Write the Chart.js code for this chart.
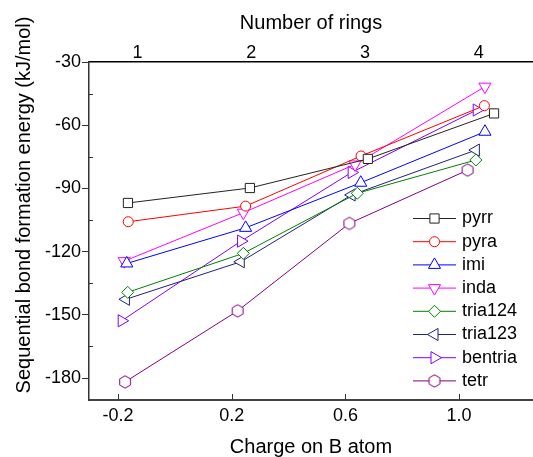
<!DOCTYPE html>
<html>
<head>
<meta charset="utf-8">
<script src="https://cdn.jsdelivr.net/npm/chart.js@4.4.1/dist/chart.umd.min.js"></script>
<style>
  html, body { margin: 0; padding: 0; background: #fff; }
  #wrap { width: 533px; height: 457px; }
</style>
</head>
<body>
<div id="wrap"><canvas id="myChart" width="533" height="457"></canvas></div>
<script>
const seriesNames = ["pyrr", "pyra", "imi", "inda", "tria124", "tria123", "bentria", "tetr"];

// charge on B atom (x) and sequential bond formation energy (y) per series
const pyrrCharge = [-0.165, 0.264, 0.679, 1.123];
const pyrrEnergy = [-96.9, -89.8, -76.0, -54.4];
const pyraCharge = [-0.164, 0.249, 0.655, 1.089];
const pyraEnergy = [-105.8, -98.4, -74.6, -50.7];
const imiCharge = [-0.169, 0.249, 0.654, 1.091];
const imiEnergy = [-125.6, -108.7, -87.3, -63.1];
const indaCharge = [-0.178, 0.241, 0.634, 1.091];
const indaEnergy = [-124.5, -101.5, -78.6, -41.7];
const tria124Charge = [-0.166, 0.241, 0.642, 1.059];
const tria124Energy = [-139.3, -120.8, -92.3, -76.5];
const tria123Charge = [-0.172, 0.232, 0.622, 1.059];
const tria123Energy = [-142.6, -124.8, -93.1, -71.8];
const bentriaCharge = [-0.187, 0.233, 0.622, 1.062];
const bentriaEnergy = [-152.8, -115.0, -82.4, -52.8];
const tetrCharge = [-0.175, 0.221, 0.614, 1.030];
const tetrEnergy = [-181.8, -148.1, -106.6, -81.3];

const chargeTicks = [-0.2, 0.2, 0.6, 1.0];
const ringTicks = [1, 2, 3, 4];
const energyTicks = [-30, -60, -90, -120, -150, -180];
const energyMinorTicks = [-45, -75, -105, -135, -165];

const chargeMin = -0.302;
const chargeMax = 1.26;
const energyMin = -190.4;
const energyMax = -30;
const ringOneCharge = -0.131;
const chargePerRing = 0.4;

const FONT = "'Liberation Sans', Arial, sans-serif";
Chart.defaults.font.family = FONT;
Chart.defaults.color = "#000";

function hexagon(color){
  const c = document.createElement("canvas");
  c.width = 16;
  c.height = 16;
  const g = c.getContext("2d");
  g.beginPath();
  for(let k = 0; k < 6; k++){
    const a = -Math.PI / 2 + k * Math.PI / 3;
    const px = 8 + 6.2 * Math.cos(a);
    const py = 8 + 6.2 * Math.sin(a);
    if(k === 0) g.moveTo(px, py); else g.lineTo(px, py);
  }
  g.closePath();
  g.fillStyle = "#fff";
  g.fill();
  g.strokeStyle = color;
  g.lineWidth = 1;
  g.stroke();
  return c;
}

function points(xs, ys){
  return xs.map((x, i) => ({x: x, y: ys[i]}));
}

function series(i, xs, ys, color, style, radius, rotation){
  return {
    label: seriesNames[i],
    data: points(xs, ys),
    showLine: true,
    borderColor: color,
    borderWidth: 1,
    backgroundColor: "#fff",
    pointBackgroundColor: "#fff",
    pointBorderColor: color,
    pointBorderWidth: 1,
    pointStyle: style,
    pointRadius: radius,
    pointRotation: rotation || 0,
    pointHoverRadius: radius
  };
}

const datasets = [
  series(0, pyrrCharge, pyrrEnergy, "#222222", "rect", 6.5),
  series(1, pyraCharge, pyraEnergy, "#ff0000", "circle", 5),
  series(2, imiCharge, imiEnergy, "#0000ff", "triangle", 7),
  series(3, indaCharge, indaEnergy, "#ff00ff", "triangle", 7, 180),
  series(4, tria124Charge, tria124Energy, "#008000", "rectRot", 6),
  series(5, tria123Charge, tria123Energy, "#202080", "triangle", 7, 270),
  series(6, bentriaCharge, bentriaEnergy, "#8000ff", "triangle", 7, 90),
  series(7, tetrCharge, tetrEnergy, "#800080", hexagon("#800080"), 6)
];

// legend with line-marker-line samples, extra ticks and the rotated y title
const extras = {
  id: "extras",
  afterDraw(chart){
    const ctx = chart.ctx;
    const xs = chart.scales.x;
    const ys = chart.scales.y;
    const area = chart.chartArea;

    ctx.save();
    ctx.strokeStyle = "#333";
    ctx.lineWidth = 1;
    chargeTicks.forEach(v => {
      const px = Math.round(xs.getPixelForValue(v)) + 0.5;
      ctx.beginPath();
      ctx.moveTo(px, area.bottom);
      ctx.lineTo(px, area.bottom - 6);
      ctx.stroke();
    });
    energyMinorTicks.forEach(v => {
      const py = Math.round(ys.getPixelForValue(v)) + 0.5;
      ctx.beginPath();
      ctx.moveTo(area.left, py);
      ctx.lineTo(area.left + 4, py);
      ctx.stroke();
    });

    const top = 218.5, step = 23.2, x0 = 413, x1 = 456, textX = 462;
    ctx.font = "18px " + FONT;
    ctx.textBaseline = "middle";
    ctx.textAlign = "left";
    chart.data.datasets.forEach((ds, i) => {
      const y = top + i * step;
      ctx.strokeStyle = ds.borderColor;
      ctx.lineWidth = 1;
      ctx.beginPath();
      ctx.moveTo(x0, y);
      ctx.lineTo(x1, y);
      ctx.stroke();
      ctx.fillStyle = "#fff";
      Chart.helpers.drawPoint(ctx, {
        pointStyle: ds.pointStyle,
        rotation: ds.pointRotation,
        radius: ds.pointRadius,
        borderWidth: 1
      }, (x0 + x1) / 2, y);
      ctx.fillStyle = "#000";
      ctx.fillText(ds.label, textX, y);
    });

    ctx.translate(24, 205);
    ctx.rotate(-Math.PI / 2);
    ctx.font = "20px " + FONT;
    ctx.textAlign = "center";
    ctx.fillStyle = "#000";
    ctx.fillText("Sequential bond formation energy (kJ/mol)", 0, 0);
    ctx.restore();
  }
};

const ctx = document.getElementById("myChart").getContext("2d");
const myChart = new Chart(ctx, {
  type: "scatter",
  data: { datasets: datasets },
  options: {
    responsive: false,
    animation: false,
    events: [],
    layout: { padding: 0, autoPadding: false },
    plugins: {
      legend: { display: false },
      tooltip: { enabled: false }
    },
    scales: {
      x: {
        type: "linear",
        position: "bottom",
        min: chargeMin,
        max: chargeMax,
        afterBuildTicks: axis => { axis.ticks = chargeTicks.map(v => ({value: v})); },
        afterFit: axis => { axis.height = 57; },
        grid: { display: false, drawTicks: false },
        border: { display: true, color: "#444", width: 2 },
        ticks: {
          padding: 7,
          font: { size: 18, lineHeight: 1 },
          color: "#000",
          maxRotation: 0,
          callback: v => v.toFixed(1)
        },
        title: {
          display: true,
          text: "Charge on B atom",
          font: { size: 20, lineHeight: 1 },
          padding: { top: 0, bottom: 0 },
          color: "#000"
        }
      },
      x2: {
        type: "linear",
        position: "top",
        min: 1 + (chargeMin - ringOneCharge) / chargePerRing,
        max: 1 + (chargeMax - ringOneCharge) / chargePerRing,
        afterBuildTicks: axis => { axis.ticks = ringTicks.map(v => ({value: v})); },
        afterFit: axis => { axis.height = 62; },
        grid: { display: false, drawTicks: false },
        border: { display: true, color: "#000", width: 1.5 },
        ticks: {
          padding: 0,
          font: { size: 18, lineHeight: 1 },
          color: "#000",
          maxRotation: 0,
          callback: v => String(v)
        },
        title: {
          display: true,
          text: "Number of rings",
          font: { size: 20, lineHeight: 1 },
          padding: { top: 13, bottom: 0 },
          color: "#000"
        }
      },
      y: {
        type: "linear",
        position: "left",
        min: energyMin,
        max: energyMax,
        afterBuildTicks: axis => { axis.ticks = energyTicks.map(v => ({value: v})); },
        afterFit: axis => { axis.width = 89; },
        grid: { drawOnChartArea: false, drawTicks: true, tickLength: 7, tickColor: "#333", tickWidth: 1 },
        border: { display: true, color: "#333", width: 1.5 },
        ticks: {
          padding: 1,
          font: { size: 18, lineHeight: 1 },
          color: "#000",
          callback: v => String(v)
        }
      }
    }
  },
  plugins: [extras]
});
</script>
</body>
</html>
